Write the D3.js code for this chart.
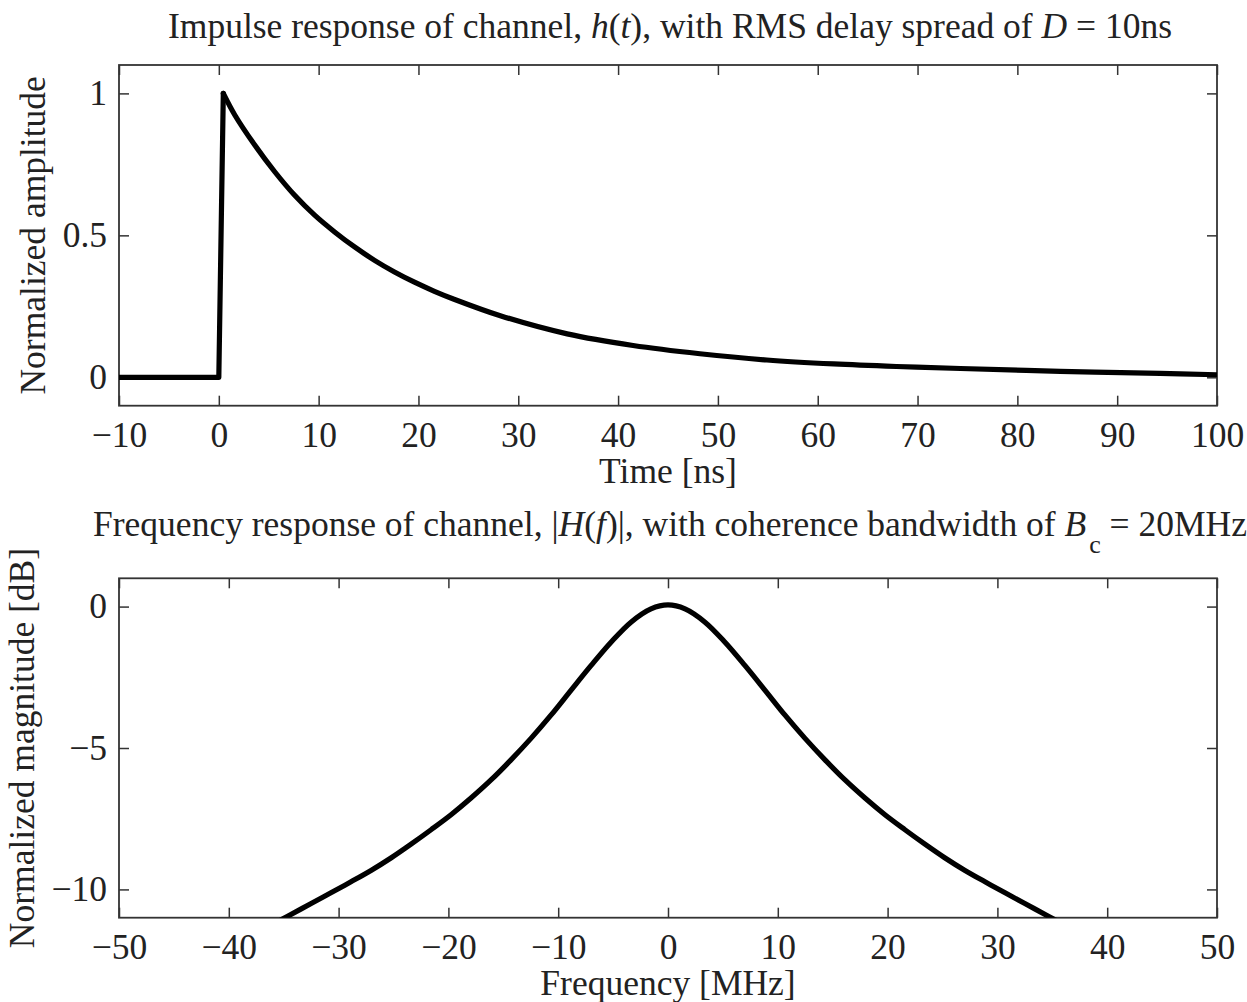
<!DOCTYPE html>
<html>
<head>
<meta charset="utf-8">
<script src="https://cdn.jsdelivr.net/npm/d3@7"></script>
<style>
    body { margin: 0; background: white; }
    text { font-family: "Liberation Serif", "Times New Roman", serif; fill: #222; }
</style>
</head>
<body>
<div id="mainvis"></div>
<script>
// impulse response
let timeNs = [-10, 0, 0.45, 1.6, 3.6, 5.6, 7.6, 9.6, 11.6, 13.6, 15.6, 17.6, 19.6, 21.6, 23.5,
    28.2, 34.9, 41.5, 48.2, 54.9, 61.6, 67.9, 74.3, 84.3, 94.3, 100];
let amplitude = [0, 0, 1, 0.924, 0.818, 0.724, 0.641, 0.571, 0.512, 0.459, 0.412, 0.371, 0.335, 0.303, 0.276,
    0.217, 0.153, 0.112, 0.083, 0.061, 0.047, 0.038, 0.031, 0.021, 0.014, 0.009];

// frequency response in dB
let freqMHz = [-36, -34.6, -32.5, -30.7, -28.87, -27.05, -25.2, -23.4, -21.58, -19.76, -17.94, -16.12, -14.3,
    -12.48, -10.66, -8.84, -7, -5.19, -3.37, -1.55, 0,
    1.55, 3.37, 5.19, 7, 8.84, 10.66, 12.48, 14.3, 16.12, 17.94, 19.76, 21.58, 23.4, 25.2, 27.05, 28.87,
    30.7, 32.5, 34.6, 36];
let magnitudeDb = [-11.23, -10.94, -10.5, -10.12, -9.73, -9.33, -8.88, -8.4, -7.89, -7.36, -6.77, -6.13, -5.42,
    -4.66, -3.84, -2.96, -2.08, -1.26, -0.55, -0.08, 0.06,
    -0.08, -0.55, -1.26, -2.08, -2.96, -3.84, -4.66, -5.42, -6.13, -6.77, -7.36, -7.89, -8.4, -8.88, -9.33, -9.73,
    -10.12, -10.5, -10.94, -11.23];

let timeTicks = [-10, 0, 10, 20, 30, 40, 50, 60, 70, 80, 90, 100];
let ampTicks = [0, 0.5, 1];
let freqTicks = [-50, -40, -30, -20, -10, 0, 10, 20, 30, 40, 50];
let dbTicks = [-10, -5, 0];

let svg = d3.select("#mainvis")
    .append("svg")
    .attr("width", 1247)
    .attr("height", 1002)
    .style("display", "block");

let left = 119, right = 1217;
let fontSize = 35.5;

function fmt(d) {
    return String(d).replace("-", "\u2212");
}

function drawPanel(opts) {
    let x = d3.scaleLinear().domain(opts.xDomain).range([left, right]);
    let y = d3.scaleLinear().domain(opts.yDomain).range([opts.bottom, opts.top]);

    let g = svg.append("g").attr("class", "panel");

    let clipId = "clip" + opts.id;
    svg.append("clipPath")
        .attr("id", clipId)
        .append("rect")
        .attr("x", left)
        .attr("y", opts.top)
        .attr("width", right - left)
        .attr("height", opts.bottom - opts.top);

    // inward ticks on all four sides, labels only bottom and left
    let axes = [
        [d3.axisBottom(x).tickValues(opts.xTicks).tickFormat(fmt), "translate(0," + opts.bottom + ")"],
        [d3.axisTop(x).tickValues(opts.xTicks).tickFormat(""), "translate(0," + opts.top + ")"],
        [d3.axisLeft(y).tickValues(opts.yTicks).tickFormat(fmt), "translate(" + left + ",0)"],
        [d3.axisRight(y).tickValues(opts.yTicks).tickFormat(""), "translate(" + right + ",0)"]
    ];
    axes.forEach((a, i) => {
        let ax = g.append("g")
            .attr("transform", a[1])
            .call(a[0].tickSize(-10).tickPadding(i == 0 ? 16 : 12));
        ax.select(".domain").remove();
        ax.selectAll("line").attr("stroke", "#333").attr("stroke-width", 1.5);
        ax.selectAll("text")
            .style("font-size", fontSize + "px")
            .attr("fill", "#222");
    });

    g.append("rect")
        .attr("x", left)
        .attr("y", opts.top)
        .attr("width", right - left)
        .attr("height", opts.bottom - opts.top)
        .attr("fill", "none")
        .attr("stroke", "#333")
        .attr("stroke-width", 1.8);

    let plot = g.append("g").attr("clip-path", "url(#" + clipId + ")");
    opts.series.forEach(s => {
        let line = d3.line()
            .x(d => x(d[0]))
            .y(d => y(d[1]))
            .curve(s.curve);
        plot.append("path")
            .datum(s.points)
            .attr("d", line)
            .attr("fill", "none")
            .attr("stroke", "#000")
            .attr("stroke-width", 5.2)
            .attr("stroke-linejoin", "round")
            .attr("stroke-linecap", "round");
    });

    // x label
    g.append("text")
        .attr("x", (left + right) / 2)
        .attr("y", opts.xLabelY)
        .attr("text-anchor", "middle")
        .style("font-size", fontSize + "px")
        .text(opts.xLabel);

    // y label
    g.append("text")
        .attr("transform", "translate(" + opts.yLabelX + "," + (opts.top + opts.bottom) / 2 + ") rotate(-90)")
        .attr("text-anchor", "middle")
        .style("font-size", fontSize + "px")
        .text(opts.yLabel);

    // title made of plain and italic pieces
    let title = g.append("text")
        .attr("x", (left + right) / 2 + 2)
        .attr("y", opts.titleY)
        .attr("text-anchor", "middle")
        .style("font-size", fontSize + "px");
    opts.title.forEach(p => {
        let ts = title.append("tspan").text(p.t);
        if (p.i) ts.style("font-style", "italic");
        if (p.sub) ts.attr("dx", 3).attr("dy", 17).style("font-size", "26px");
        if (p.up) ts.attr("dy", -17);
    });
}

let impulsePts = timeNs.map((t, i) => [t, amplitude[i]]);
let peak = amplitude.indexOf(d3.max(amplitude));
let smooth = d3.curveCatmullRom.alpha(0.5);

drawPanel({
    id: 1,
    top: 65, bottom: 405.7,
    xDomain: [-10, 100], yDomain: [-0.1, 1.1],
    xTicks: timeTicks, yTicks: ampTicks,
    series: [
        { points: impulsePts.slice(0, peak + 1), curve: d3.curveLinear },
        { points: impulsePts.slice(peak), curve: smooth }
    ],
    xLabel: "Time [ns]", xLabelY: 483,
    yLabel: "Normalized amplitude", yLabelX: 45,
    titleY: 38,
    title: [
        { t: "Impulse response of channel, " }, { t: "h", i: true }, { t: "(" }, { t: "t", i: true },
        { t: "), with RMS delay spread of " }, { t: "D", i: true }, { t: " = 10ns" }
    ]
});

drawPanel({
    id: 2,
    top: 578.3, bottom: 917.7,
    xDomain: [-50, 50], yDomain: [-11, 1],
    xTicks: freqTicks, yTicks: dbTicks,
    series: [
        { points: freqMHz.map((f, i) => [f, magnitudeDb[i]]), curve: smooth }
    ],
    xLabel: "Frequency [MHz]", xLabelY: 995,
    yLabel: "Normalized magnitude [dB]", yLabelX: 34,
    titleY: 536,
    title: [
        { t: "Frequency response of channel, |" }, { t: "H", i: true }, { t: "(" }, { t: "f", i: true },
        { t: ")|, with coherence bandwidth of " }, { t: "B", i: true }, { t: "c", sub: true },
        { t: " = 20MHz", up: true }
    ]
});
</script>
</body>
</html>
